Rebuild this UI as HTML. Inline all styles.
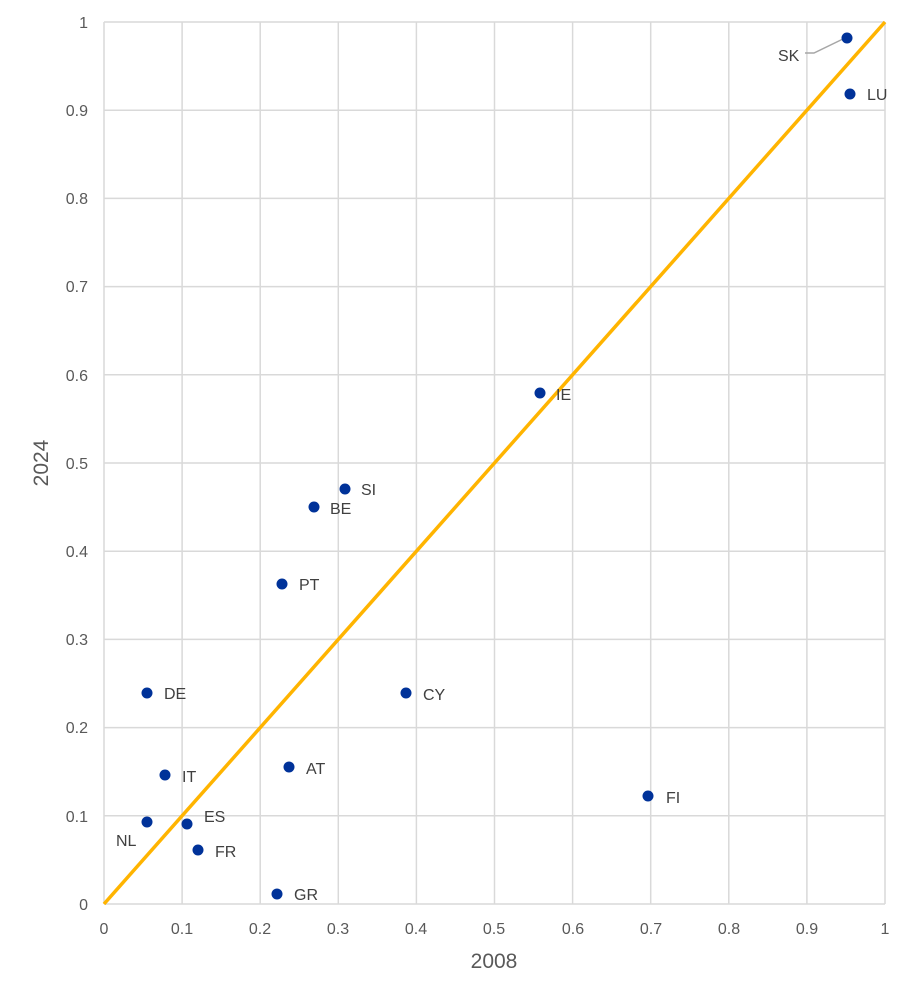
<!DOCTYPE html>
<html><head><meta charset="utf-8"><style>html,body{margin:0;background:#fff}svg{display:block}</style></head><body>
<svg width="913" height="1002" xmlns="http://www.w3.org/2000/svg" font-family="Liberation Sans, sans-serif">
<g stroke="#d9d9d9" stroke-width="1.5">
<line x1="104" y1="22" x2="104" y2="904"/><line x1="182.1" y1="22" x2="182.1" y2="904"/><line x1="260.2" y1="22" x2="260.2" y2="904"/><line x1="338.3" y1="22" x2="338.3" y2="904"/><line x1="416.4" y1="22" x2="416.4" y2="904"/><line x1="494.5" y1="22" x2="494.5" y2="904"/><line x1="572.6" y1="22" x2="572.6" y2="904"/><line x1="650.7" y1="22" x2="650.7" y2="904"/><line x1="728.8" y1="22" x2="728.8" y2="904"/><line x1="806.9" y1="22" x2="806.9" y2="904"/><line x1="885" y1="22" x2="885" y2="904"/>
<line x1="104" y1="22" x2="885" y2="22"/><line x1="104" y1="110.2" x2="885" y2="110.2"/><line x1="104" y1="198.4" x2="885" y2="198.4"/><line x1="104" y1="286.6" x2="885" y2="286.6"/><line x1="104" y1="374.8" x2="885" y2="374.8"/><line x1="104" y1="463" x2="885" y2="463"/><line x1="104" y1="551.2" x2="885" y2="551.2"/><line x1="104" y1="639.4" x2="885" y2="639.4"/><line x1="104" y1="727.6" x2="885" y2="727.6"/><line x1="104" y1="815.8" x2="885" y2="815.8"/><line x1="104" y1="904" x2="885" y2="904"/>
</g>
<g fill="#595959" font-size="16" text-anchor="end">
<text x="88" y="28">1</text><text x="88" y="116">0.9</text><text x="88" y="204">0.8</text><text x="88" y="292">0.7</text><text x="88" y="381">0.6</text><text x="88" y="469">0.5</text><text x="88" y="557">0.4</text><text x="88" y="645">0.3</text><text x="88" y="733">0.2</text><text x="88" y="822">0.1</text><text x="88" y="910">0</text>
</g>
<g fill="#595959" font-size="16" text-anchor="middle">
<text x="104" y="934">0</text><text x="182" y="934">0.1</text><text x="260" y="934">0.2</text><text x="338" y="934">0.3</text><text x="416" y="934">0.4</text><text x="494" y="934">0.5</text><text x="573" y="934">0.6</text><text x="651" y="934">0.7</text><text x="729" y="934">0.8</text><text x="807" y="934">0.9</text><text x="885" y="934">1</text>
</g>
<text x="494" y="968" font-size="21" fill="#595959" text-anchor="middle">2008</text>
<text transform="translate(48,463) rotate(-90)" font-size="21" fill="#595959" text-anchor="middle">2024</text>
<line x1="104" y1="904" x2="885" y2="22" stroke="#FFB400" stroke-width="3.5"/>
<polyline points="805,53 814,53 845,38" fill="none" stroke="#a6a6a6" stroke-width="1.5"/>
<g fill="#003299">
<circle cx="847" cy="38" r="5.5"/><circle cx="850" cy="94" r="5.5"/><circle cx="540" cy="393" r="5.5"/><circle cx="345" cy="489" r="5.5"/><circle cx="314" cy="507" r="5.5"/><circle cx="282" cy="584" r="5.5"/><circle cx="147" cy="693" r="5.5"/><circle cx="406" cy="693" r="5.5"/><circle cx="289" cy="767" r="5.5"/><circle cx="165" cy="775" r="5.5"/><circle cx="648" cy="796" r="5.5"/><circle cx="187" cy="824" r="5.5"/><circle cx="147" cy="822" r="5.5"/><circle cx="198" cy="850" r="5.5"/><circle cx="277" cy="894" r="5.5"/>
</g>
<g fill="#404040" font-size="16">
<text x="778" y="61">SK</text><text x="867" y="100">LU</text><text x="556" y="400">IE</text><text x="361" y="495">SI</text><text x="330" y="514">BE</text><text x="299" y="590">PT</text><text x="164" y="699">DE</text><text x="423" y="700">CY</text><text x="306" y="774">AT</text><text x="182" y="782">IT</text><text x="666" y="803">FI</text><text x="204" y="822">ES</text><text x="116" y="846">NL</text><text x="215" y="857">FR</text><text x="294" y="900">GR</text>
</g>
</svg>
</body></html>
